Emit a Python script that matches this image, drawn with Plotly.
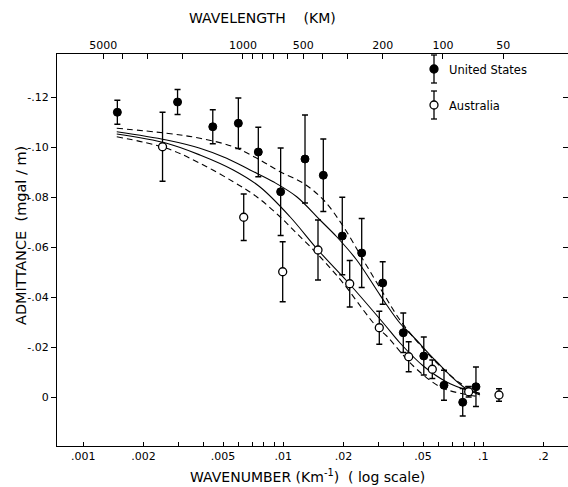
import math
import plotly.graph_objects as go

# ---------------- data ----------------
# wavenumber (km^-1) and admittance (mgal/m)
us_k = [0.00148, 0.00296, 0.00444, 0.00596, 0.0075, 0.0097, 0.01284, 0.01585,
        0.01972, 0.02466, 0.03141, 0.0398, 0.0504, 0.0636, 0.0789, 0.0919]
us_adm = [-0.1140, -0.1181, -0.1082, -0.1096, -0.0981, -0.0822, -0.0953, -0.0888,
          -0.0645, -0.0577, -0.0457, -0.0258, -0.0165, -0.0048, 0.0020, -0.0042]
us_err = [0.0048, 0.0050, 0.0068, 0.0101, 0.0099, 0.0175, 0.0176, 0.0145,
          0.0155, 0.0138, 0.0085, 0.0079, 0.0076, 0.0060, 0.0055, 0.0079]

au_k = [0.00249, 0.00634, 0.00993, 0.01491, 0.02148, 0.0302, 0.04236, 0.0556,
        0.0845, 0.1198]
au_adm = [-0.1002, -0.0720, -0.0502, -0.0589, -0.0454, -0.0278, -0.0162, -0.0112,
          -0.0022, -0.0009]
au_err = [0.0138, 0.0093, 0.0120, 0.0120, 0.0093, 0.0066, 0.0060, 0.0037,
          0.0021, 0.0025]

# model curves
upper_dash_k = [0.00147, 0.00261, 0.00383, 0.00562, 0.00765, 0.00963, 0.0126, 0.0159,
                0.0200, 0.0251, 0.0316, 0.0383, 0.0483, 0.0607, 0.0765, 0.0963]
upper_dash_adm = [-0.1076, -0.1056, -0.1036, -0.1002, -0.0949, -0.0902, -0.0856, -0.0789,
                  -0.0682, -0.0549, -0.0416, -0.0309, -0.0209, -0.0125, -0.0057, -0.0013]

upper_solid_k = [0.00147, 0.00261, 0.00383, 0.00521, 0.00682, 0.00891, 0.01167, 0.01526,
                 0.01849, 0.02328, 0.02931, 0.03289, 0.03834, 0.04467, 0.05848, 0.07943, 0.09627]
upper_solid_adm = [-0.1062, -0.1029, -0.0996, -0.0956, -0.0909, -0.0862, -0.0802, -0.0709,
                   -0.0642, -0.0549, -0.0429, -0.0369, -0.0296, -0.0242, -0.0142, -0.0042, -0.0009]

lower_solid_k = [0.00147, 0.00261, 0.00383, 0.00562, 0.00765, 0.0108, 0.01491, 0.02143,
                 0.03162, 0.03834, 0.05012, 0.06561, 0.0826, 0.09627]
lower_solid_adm = [-0.1053, -0.1016, -0.0969, -0.0909, -0.0841, -0.0722, -0.0589, -0.0453,
                   -0.0297, -0.0217, -0.0125, -0.0061, -0.0029, -0.0016]

lower_dash_k = [0.00147, 0.00261, 0.00383, 0.00562, 0.00736, 0.00963, 0.01167, 0.01526,
                0.01995, 0.02512, 0.02931, 0.03289, 0.04467, 0.06074, 0.07646, 0.09627]
lower_dash_adm = [-0.1042, -0.0996, -0.0936, -0.0862, -0.0802, -0.0722, -0.0656, -0.0562,
                  -0.0456, -0.0349, -0.0282, -0.0245, -0.0125, -0.0042, -0.0016, -0.0002]

# ticks
k_ticks = [0.001, 0.002, 0.005, 0.01, 0.02, 0.05, 0.1, 0.2]
k_tick_text = [".001", ".002", ".005", ".01", ".02", ".05", ".1", ".2"]
k_minor_ticks = [0.003, 0.004, 0.006, 0.007, 0.008, 0.009,
                 0.03, 0.04, 0.06, 0.07, 0.08, 0.09]
wavelength_ticks_km = [5000, 1000, 500, 200, 100, 50]
wavelength_tick_text = ["5000", "1000", "500", "200", "100", "50"]
wavelength_minor_km = [4000, 3000, 2000, 900, 800, 700, 600, 400, 300]
adm_ticks = [-0.12, -0.10, -0.08, -0.06, -0.04, -0.02, 0.0]
adm_tick_text = ["-.12", "-.10", "-.08", "-.06", "-.04", "-.02", "0"]

# ---------------- layout geometry ----------------
W, H = 568, 487
L, R, T, B = 57, 0, 54, 41
X_RANGE = [-3.1315, -0.5765]      # log10 wavenumber
Y_RANGE = [0.0195, -0.1373]       # reversed: more negative upwards
FONT = "DejaVu Sans"

def px(x, y):
    """pixel -> paper coordinates"""
    return (x - L) / (W - L - R), (H - B - y) / (H - T - B)

fig = go.Figure()

curve_style = dict(color="black", width=1.1)
for kx, ky, dash in [(upper_dash_k, upper_dash_adm, "6px,4px"),
                     (upper_solid_k, upper_solid_adm, "solid"),
                     (lower_solid_k, lower_solid_adm, "solid"),
                     (lower_dash_k, lower_dash_adm, "6px,4px")]:
    fig.add_trace(go.Scatter(x=kx, y=ky, mode="lines", line_shape="spline",
                             line=dict(dash=dash, **curve_style),
                             showlegend=False, hoverinfo="skip"))

# invisible trace to attach the top / right axes
fig.add_trace(go.Scatter(x=upper_solid_k, y=upper_solid_adm, xaxis="x2", yaxis="y2",
                         mode="lines", line=dict(width=0), opacity=0,
                         showlegend=False, hoverinfo="skip"))

err_style = dict(type="data", visible=True, color="black", thickness=1.3, width=3)
fig.add_trace(go.Scatter(x=us_k, y=us_adm, mode="markers", name="United States",
                         error_y=dict(array=us_err, **err_style),
                         marker=dict(symbol="circle", size=8, color="black",
                                     line=dict(color="black", width=1)),
                         showlegend=False))
fig.add_trace(go.Scatter(x=au_k, y=au_adm, mode="markers", name="Australia",
                         error_y=dict(array=au_err, **err_style),
                         marker=dict(symbol="circle", size=8, color="white",
                                     line=dict(color="black", width=1.3)),
                         showlegend=False))

axis_common = dict(showgrid=False, zeroline=False, linecolor="black", linewidth=1.2,
                   tickcolor="black", tickangle=0,
                   tickfont=dict(family=FONT, size=11, color="black"))

fig.update_layout(
    width=W, height=H,
    margin=dict(l=L, r=R, t=T, b=B, pad=0),
    paper_bgcolor="white", plot_bgcolor="white",
    font=dict(family=FONT, color="black"),
    xaxis=dict(type="log", range=X_RANGE, showline=True, ticks="inside", ticklen=4,
               tickmode="array", tickvals=k_ticks, ticktext=k_tick_text,
               minor=dict(tickmode="array", tickvals=k_minor_ticks, ticks="inside",
                          ticklen=4, tickcolor="black", showgrid=False),
               **axis_common),
    xaxis2=dict(type="log", range=X_RANGE, overlaying="x", side="top", showline=True,
                ticks="inside", ticklen=5, tickmode="array",
                tickvals=[2 * math.pi / w for w in wavelength_ticks_km],
                ticktext=wavelength_tick_text,
                minor=dict(tickmode="array",
                           tickvals=[2 * math.pi / w for w in wavelength_minor_km],
                           ticks="inside", ticklen=5, tickcolor="black", showgrid=False),
                **axis_common),
    yaxis=dict(range=Y_RANGE, showline=True, ticks="outside", ticklen=5,
               tickmode="array", tickvals=adm_ticks, ticktext=adm_tick_text, **axis_common),
    yaxis2=dict(range=Y_RANGE, overlaying="y", side="right", showline=False,
                ticks="inside", ticklen=5, tickmode="array", tickvals=adm_ticks,
                showticklabels=False, showgrid=False, zeroline=False, tickcolor="black"),
    showlegend=False,
)

# titles
ann = []
x0, y0 = px(262, 18)
ann.append(dict(x=x0, y=y0, text="WAVELENGTH    (KM)", showarrow=False,
                xanchor="center", yanchor="middle", font=dict(family=FONT, size=14)))
x0, y0 = px(307, 476)
ann.append(dict(x=x0, y=y0, text="WAVENUMBER (Km<sup>-1</sup>)  ( log scale)", showarrow=False,
                xanchor="center", yanchor="middle", font=dict(family=FONT, size=14)))
x0, y0 = px(21, 236)
ann.append(dict(x=x0, y=y0, text="ADMITTANCE  (mgal / m)", showarrow=False, textangle=-90,
                xanchor="center", yanchor="middle", font=dict(family=FONT, size=14.5)))

# hand-drawn style legend (symbol with error bar + label)
shapes = []
for (cx, cy, fill, label) in [(434, 69, "black", "United States"),
                              (434, 105, "white", "Australia")]:
    top, bot = cy - 14, cy + 14
    for (xa, ya, xb, yb) in [(cx, top, cx, bot), (cx - 3, top, cx + 3, top),
                             (cx - 3, bot, cx + 3, bot)]:
        pa, pb = px(xa, ya), px(xb, yb)
        shapes.append(dict(type="line", xref="paper", yref="paper",
                           x0=pa[0], y0=pa[1], x1=pb[0], y1=pb[1],
                           line=dict(color="black", width=1.3)))
    pa, pb = px(cx - 4, cy - 4), px(cx + 4, cy + 4)
    shapes.append(dict(type="circle", xref="paper", yref="paper",
                       x0=pa[0], y0=pb[1], x1=pb[0], y1=pa[1],
                       fillcolor=fill, line=dict(color="black", width=1.3)))
    tx, ty = px(447, cy + 1)
    ann.append(dict(x=tx, y=ty, text=label, showarrow=False, xanchor="left",
                    yanchor="middle", font=dict(family=FONT, size=11.5)))

for a in ann:
    a.update(xref="paper", yref="paper")
fig.update_layout(annotations=ann, shapes=shapes)

fig.write_html("out.html", config={"displayModeBar": False},
               post_script="document.body.style.margin='0';"
                           "document.body.style.overflow='hidden';")
